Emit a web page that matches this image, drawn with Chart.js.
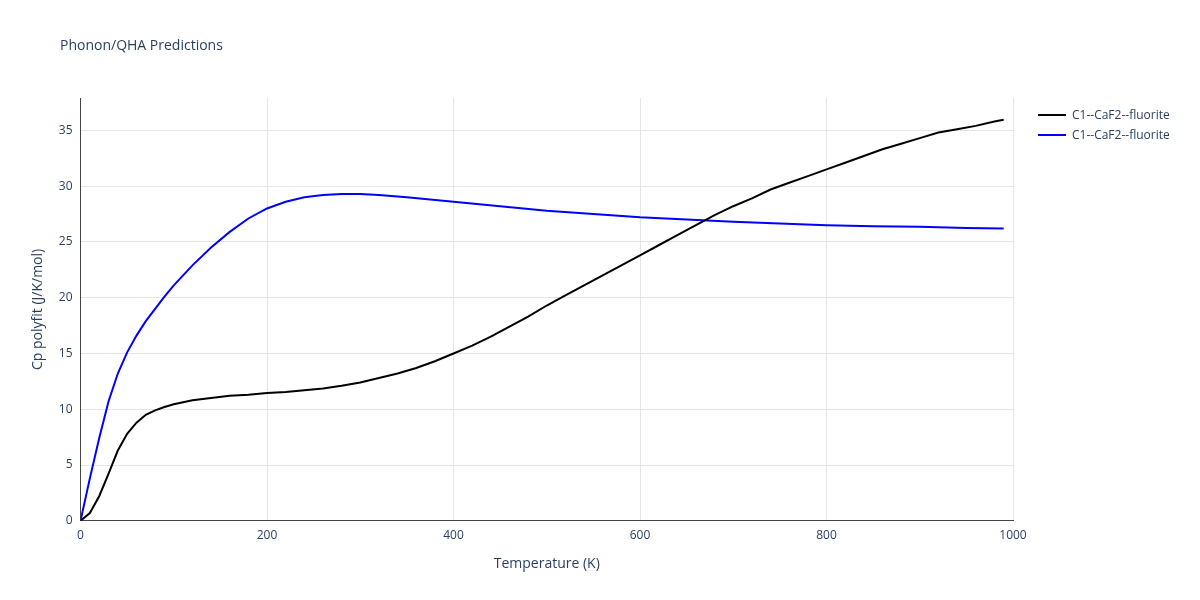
<!DOCTYPE html>
<html><head><meta charset="utf-8">
<script src="https://cdn.jsdelivr.net/npm/chart.js@4"></script>
<style>
body{margin:0;background:#fff;font-family:"Open Sans",sans-serif;}
#wrap{position:relative;width:1200px;height:600px;}
.leg{position:absolute;left:1038px;font-size:12px;color:#2a3f5f;display:flex;align-items:center;}
.leg span{display:inline-block;width:28px;height:2px;margin-right:6px;}
#title{position:absolute;left:60px;top:35px;font-size:14px;color:#2a3f5f;}
</style></head>
<body>
<div id="wrap">
<canvas id="c" width="1200" height="600"></canvas>
<div id="title">Phonon/QHA Predictions</div>
<div class="leg" style="top:106px"><span style="background:#000"></span>C1--CaF2--fluorite</div>
<div class="leg" style="top:126px"><span style="background:#0000ff"></span>C1--CaF2--fluorite</div>
</div>
<script>
const blackT = [0,10,20,30,40,50,60,70,80,90,100,120,140,160,180,200,220,240,260,280,300,320,340,360,380,400,420,440,460,480,500,520,540,560,580,600,620,640,660,680,700,720,740,760,780,800,820,840,860,880,900,920,940,960,980,990];
const blackCp = [0,0.7,2.2,4.2,6.3,7.8,8.8,9.5,9.9,10.2,10.45,10.8,11.0,11.2,11.3,11.45,11.55,11.7,11.85,12.1,12.4,12.8,13.2,13.7,14.3,15.0,15.7,16.5,17.4,18.3,19.3,20.2,21.1,22.0,22.9,23.8,24.7,25.6,26.5,27.4,28.2,28.9,29.7,30.3,30.9,31.5,32.1,32.7,33.3,33.8,34.3,34.8,35.1,35.4,35.8,35.95];
const blueT = [0,10,20,30,40,50,60,70,80,90,100,120,140,160,180,200,220,240,260,280,300,320,350,400,450,500,550,600,650,700,750,800,850,900,950,990];
const blueCp = [0,3.8,7.4,10.7,13.2,15.1,16.6,17.9,19.0,20.1,21.1,22.9,24.5,25.9,27.1,28.0,28.6,29.0,29.2,29.3,29.3,29.2,29.0,28.6,28.2,27.8,27.5,27.2,27.0,26.8,26.65,26.5,26.4,26.35,26.25,26.2];
const xTicks = [0,200,400,600,800,1000];
const yTicks = [0,5,10,15,20,25,30,35];

const txt = "#2a3f5f";
const pts = (xs, ys) => xs.map((x, i) => ({x: x, y: ys[i]}));

new Chart(document.getElementById("c"), {
    type: "line",
    data: {
        datasets: [
            {label: "C1--CaF2--fluorite", data: pts(blackT, blackCp), borderColor: "#000", borderWidth: 2, pointRadius: 0, tension: 0},
            {label: "C1--CaF2--fluorite", data: pts(blueT, blueCp), borderColor: "#0000ff", borderWidth: 2, pointRadius: 0, tension: 0}
        ]
    },
    options: {
        responsive: false,
        animation: false,
        layout: {padding: {left: 26, right: 187, top: 98, bottom: 24}},
        plugins: {
            legend: {display: false},
            title: {display: false},
            tooltip: {enabled: false}
        },
        scales: {
            x: {
                type: "linear", min: 0, max: 1000,
                afterBuildTicks: ax => { ax.ticks = xTicks.map(v => ({value: v})); },
                grid: {color: "#e5e5e5", drawTicks: false},
                border: {color: "#444"},
                ticks: {color: txt, font: {family: "Open Sans", size: 12}, padding: 8, callback: v => String(v)},
                title: {display: true, text: "Temperature (K)", color: txt, font: {family: "Open Sans", size: 14}}
            },
            y: {
                min: 0, max: 37.9,
                afterBuildTicks: ax => { ax.ticks = yTicks.map(v => ({value: v})); },
                grid: {color: "#e5e5e5", drawTicks: false},
                border: {color: "#444"},
                ticks: {color: txt, font: {family: "Open Sans", size: 12}, padding: 8},
                title: {display: true, text: "Cp polyfit (J/K/mol)", color: txt, font: {family: "Open Sans", size: 14}}
            }
        }
    }
});
</script>
</body></html>
